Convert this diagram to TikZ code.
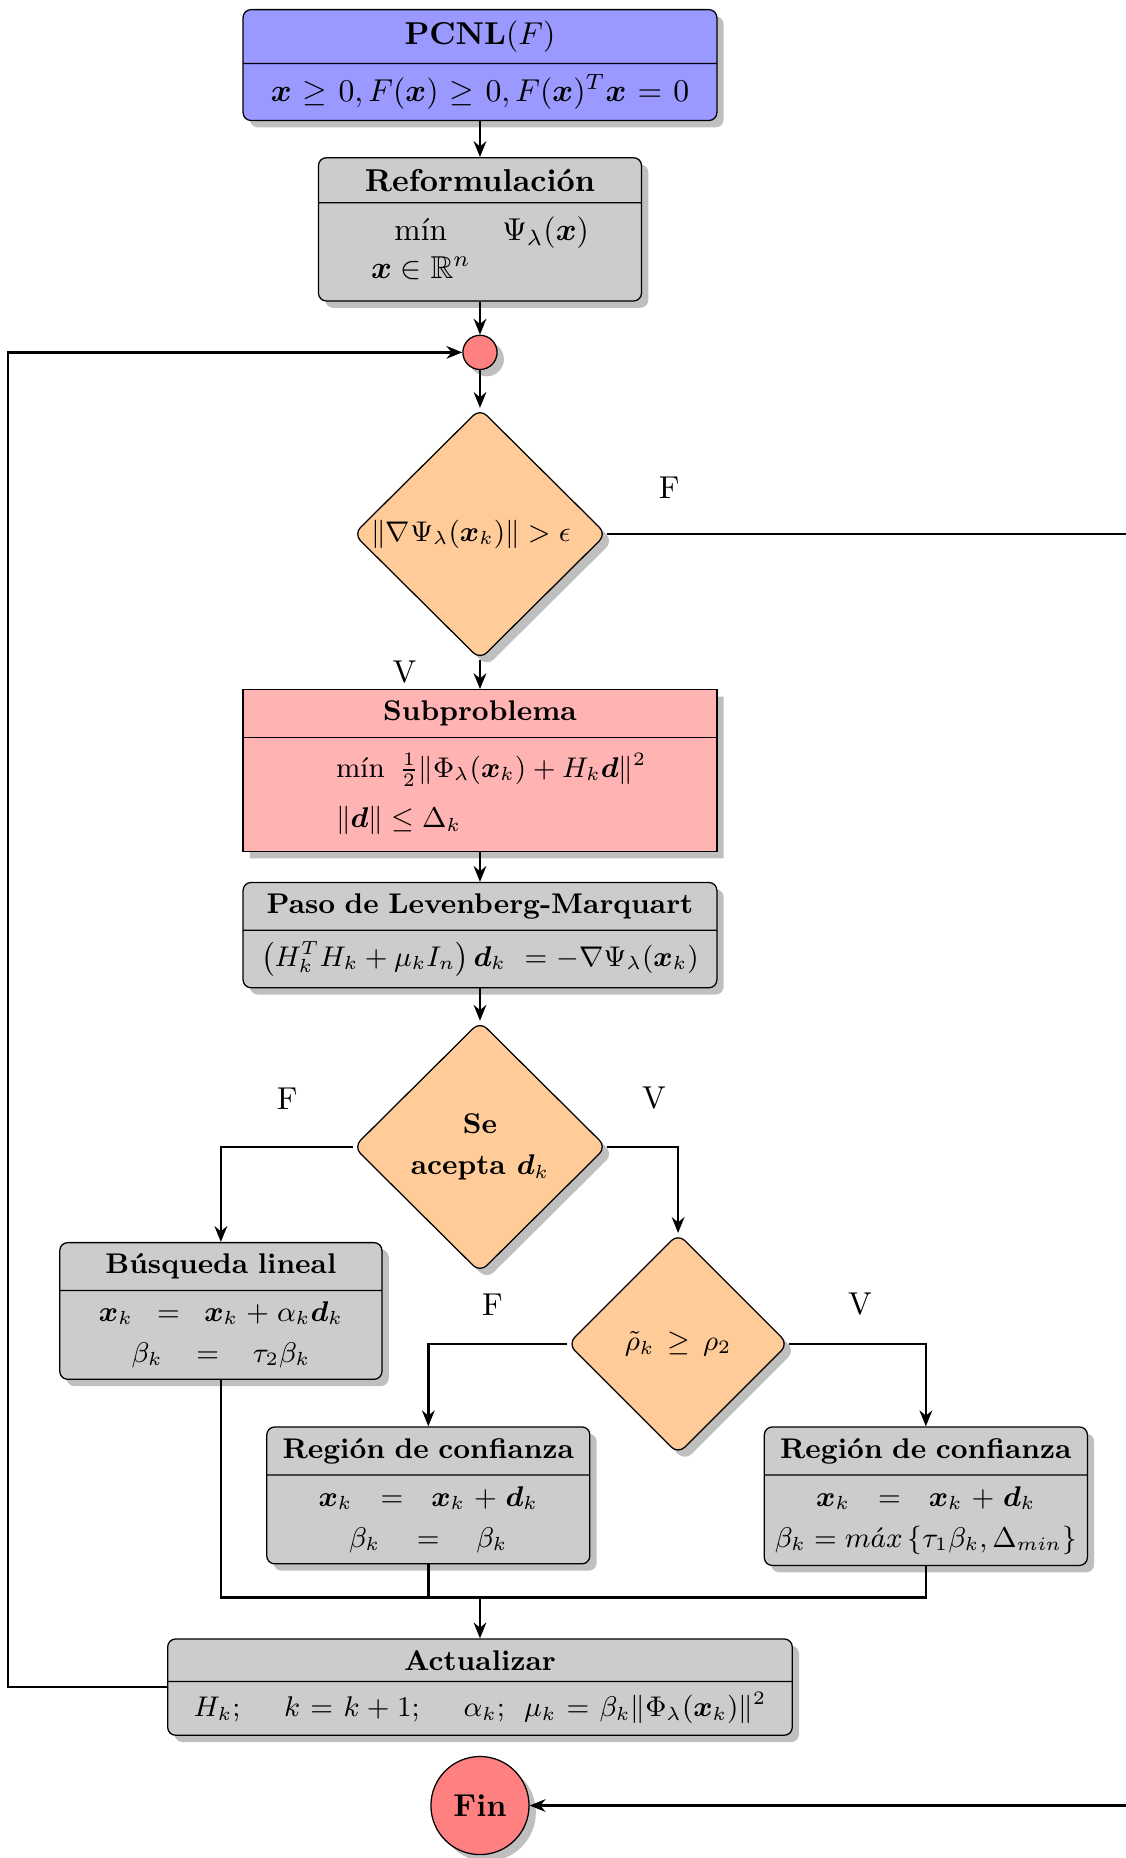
\documentclass[tikz,border=0pt]{standalone}
\usepackage{amsmath,amssymb}
\usepackage{bm}
\usepackage{tikz}
\usetikzlibrary{
  shapes.geometric, shapes.multipart,
  arrows.meta,
  positioning, calc,
  shadows
}
\definecolor{startblue}{RGB}{153,153,255}
\definecolor{boxgray}{RGB}{204,204,204}
\definecolor{subpink}{RGB}{255,179,179}
\definecolor{decorange}{RGB}{255,204,153}
\definecolor{termred}{RGB}{255,128,128}
\tikzset{
  basebox/.style={rectangle split,rectangle split parts=2,draw=black,fill=boxgray,rounded corners=2.5pt,drop shadow,align=center},
  startnode/.style={basebox,fill=startblue,text width=5.03cm},
  procnode/.style={basebox,fill=boxgray,font=\small},
  subpnode/.style={basebox,fill=subpink,sharp corners,text width=5.03cm,font=\small},
  decnode/.style={diamond,aspect=1,draw=black,fill=decorange,rounded corners=3pt,drop shadow,inner sep=0pt,align=center,minimum width=2.81cm,minimum height=2.79cm,font=\small},
  joinnode/.style={circle,draw=black,fill=termred,drop shadow,inner sep=0pt,minimum size=0.38cm},
  endnode/.style={circle,draw=black,fill=termred,drop shadow,inner sep=0pt,minimum size=1.09cm,font=\bfseries},
  lbl/.style={font=\normalsize},
  arr/.style={->,>={Stealth[length=5pt,width=4pt]},thick},
  plainline/.style={thick}
}

\begin{document}
\begin{tikzpicture}
  \useasboundingbox (0,0) rectangle (12.5,-20.644);

  %% START
  \node[startnode,anchor=north] (pcnl) at (5.333,-0.1)
    {\textbf{PCNL}$(F)$\nodepart{two}$\bm{x}\geq 0, F(\bm{x})\geq 0, F(\bm{x})^T\bm{x}=0$};
  \node[basebox,text width=3.355cm,below=0.4cm of pcnl] (reform)
    {\textbf{Reformulación}\nodepart{two}$\begin{array}{cl}\text{mín} & \Psi_\lambda(\bm{x})\\ \bm{x}\in\mathbb{R}^n & \end{array}$};
  \node[joinnode,below=0.367cm of reform] (junc) {};

  %% STOPPING TEST
  \node[decnode,below=0.42cm of junc] (d1) {$\|\nabla\Psi_\lambda(\bm{x}_k)\|>\epsilon$\hspace*{0.2cm}};

  %% SUBPROBLEM + LM STEP
  \node[subpnode,below=0.32cm of d1] (subp)
    {\textbf{Subproblema}\nodepart{two}\hspace*{0.25cm}$\begin{array}{l}\rule{0pt}{9pt}\text{mín}\ \,\frac{1}{2}\|\Phi_\lambda(\bm{x}_k)+H_k\bm{d}\|^2\\[5pt] \|\bm{d}\|\leq\Delta_k\rule[-4pt]{0pt}{0pt}\end{array}$};
  \node[procnode,text width=5.03cm,below=0.33cm of subp] (lm)
    {\textbf{Paso de Levenberg-Marquart}\nodepart{two}$\left(H_k^TH_k+\mu_kI_n\right)\bm{d}_k\ =-\nabla\Psi_\lambda(\bm{x}_k)$};
  \node[decnode,below=0.36cm of lm] (d2) {\textbf{Se}\\[2pt]\textbf{acepta $\bm{d}_k$}};

  %% BRANCHES
  \node[procnode,text width=3.345cm,below=1.056cm of d2.west,xshift=-1.467cm] (busq)
    {\textbf{Búsqueda lineal}\nodepart{two}$\bm{x}_k\;=\;\bm{x}_k+\alpha_k\bm{d}_k$\\[2pt]$\beta_k\;=\;\tau_2\beta_k$};
  \node[decnode,minimum width=2.45cm,minimum height=2.45cm,below=0.956cm of d2.east,xshift=0.789cm] (d3)
    {$\tilde{\rho}_k\,\geq\,\rho_2$};
  \node[procnode,text width=3.355cm,below=0.916cm of d3.west,xshift=-1.543cm] (rdc1)
    {\textbf{Región de confianza}\nodepart{two}$\bm{x}_k\;=\;\bm{x}_k+\bm{d}_k$\\[2pt]$\beta_k\;=\;\beta_k$};
  \node[procnode,text width=3.355cm,below=0.916cm of d3.east,xshift=1.521cm] (rdc2)
    {\textbf{Región de confianza}\nodepart{two}$\bm{x}_k\;=\;\bm{x}_k+\bm{d}_k$\\[2pt]$\beta_k=m\acute{a}x\left\{\tau_1\beta_k,\Delta_{min}\right\}$};

  %% UPDATE + END
  \node[procnode,text width=6.705cm,below=4.058cm of d2] (act)
    {\textbf{Actualizar}\nodepart{two}$H_k;\quad\; k=k+1;\quad\; \alpha_k;\ \,\mu_k=\beta_k\|\Phi_\lambda(\bm{x}_k)\|^2$};
  \coordinate[above=0.456cm of act] (merge);
  \node[endnode,below=0.222cm of act] (fin) {Fin};

  %% LABELS
  \node[lbl] (lblF1) at ($(d1.east)+(0.69,0.51)$) {F};
  \node[lbl] (lblV1) at ($(d1.south)+(-0.84,-0.13)$) {V};
  \node[lbl] (lblF2) at ($(d2.west)+(-0.73,0.54)$) {F};
  \node[lbl] (lblV2) at ($(d2.east)+(0.52,0.54)$) {V};
  \node[lbl] (lblF3) at ($(d3.west)+(-0.83,0.44)$) {F};
  \node[lbl] (lblV3) at ($(d3.east)+(0.79,0.44)$) {V};

  %% CONNECTIONS
  \draw[arr] (pcnl.south) -- (reform.north);
  \draw[arr] (reform.south) -- (junc.north);
  \draw[arr] (junc.south) -- (d1.north);
  \draw[arr] (d1.south) -- (subp.north);
  \draw[arr] (subp.south) -- (lm.north);
  \draw[arr] (lm.south) -- (d2.north);
  \draw[arr] (d2.west) -| (busq.north);
  \draw[arr] (d2.east) -| (d3.north);
  \draw[arr] (d3.west) -| (rdc1.north);
  \draw[arr] (d3.east) -| (rdc2.north);
  \draw[plainline] (busq.south) |- (merge);
  \draw[plainline] (rdc1.south) |- (merge);
  \draw[plainline] (rdc2.south) |- (merge);
  \draw[arr] (merge) -- (act.north);
  \draw[arr] (act.west) -- ++(-1.767,0) |- (junc.west);
  \draw[arr] (d1.east) -- ++(7,0) |- (fin.east);
\end{tikzpicture}
\end{document}
